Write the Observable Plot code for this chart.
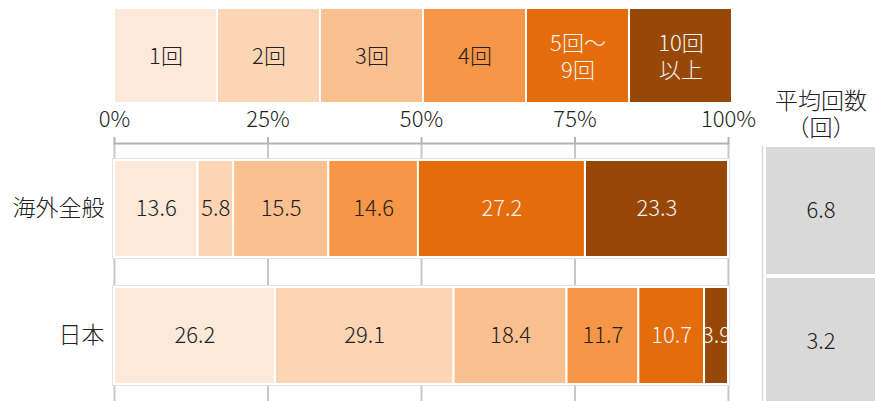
<!DOCTYPE html>
<html><head><meta charset="utf-8">
<script src="https://cdn.jsdelivr.net/npm/d3@7"></script>
<script src="https://cdn.jsdelivr.net/npm/@observablehq/plot@0.6"></script>
<style>
body{margin:0;background:#fff;}
#chart{position:relative;width:883px;height:401px;font-family:"Noto Sans CJK JP",sans-serif;font-weight:300;color:#222;overflow:hidden}
#chart svg{position:absolute;left:0;top:0}
#hdr{position:absolute;left:762px;width:118px;top:86px;text-align:center;font-size:23px;line-height:27px;z-index:2;text-spacing-trim:space-all;font-feature-settings:"chws" 0,"halt" 0,"fwid" 1}
</style></head><body><div id="chart"><div id="hdr">平均回数<br>（回）</div></div>
<script>
const categories = ["1回","2回","3回","4回","5回～\n9回","10回\n以上"];
const rows = ["海外全般","日本"];
const overseas = [13.6, 5.8, 15.5, 14.6, 27.2, 23.3];
const japan = [26.2, 29.1, 18.4, 11.7, 10.7, 3.9];
const averages = [6.8, 3.2];
const tickValues = [0, 25, 50, 75, 100];
const colors = ["#fde9d9","#fcd5b5","#fac090","#f79646","#e46c0a","#974806"];
const darkCats = categories.slice(0, 4);

const seriesByRow = [overseas, japan];
const data = rows.flatMap((r, ri) => seriesByRow[ri].map((v, i) => ({row: r, cat: categories[i], value: v})));
const avgData = rows.map((r, i) => ({row: r, avg: averages[i]}));

const baseStyle = {fontFamily: '"Noto Sans CJK JP", sans-serif', fontWeight: 300, fontSize: "22px", color: "#222", background: "transparent", overflow: "visible"};
const chart = document.getElementById("chart");

const legend = Plot.plot({
  width: 883, height: 110, marginLeft: 112, marginRight: 150, marginTop: 9, marginBottom: 8,
  x: {domain: categories, paddingInner: 0.02, paddingOuter: 0, axis: null},
  color: {domain: categories, range: colors},
  style: baseStyle,
  marks: [
    Plot.cell(categories, {x: d => d, fill: d => d}),
    Plot.text(categories, {x: d => d, text: d => darkCats.includes(d) ? d : "", fill: "#222", fontSize: 22, lineHeight: 1.2}),
    Plot.text(categories, {x: d => d, text: d => darkCats.includes(d) ? "" : d, fill: "#f4f4f4", fontSize: 22, lineHeight: 1.2})
  ]
});
chart.appendChild(legend);

const fmt = v => v.toFixed(1);
const main = Plot.plot({
  width: 883, height: 401, marginLeft: 114, marginRight: 155, marginTop: 143, marginBottom: 0,
  x: {domain: [0, 100], label: null},
  y: {domain: rows, paddingInner: 0.2326, paddingOuter: 0.125, label: null},
  color: {domain: categories, range: colors},
  style: baseStyle,
  marks: [
    Plot.ruleX(tickValues, {stroke: "#c8c8c8", strokeWidth: 2}),
    Plot.frame({anchor: "top", stroke: "#b4b4b4", strokeWidth: 2}),
    Plot.axisX({anchor: "top", label: null, ticks: tickValues, tickFormat: d => d + "%", tickSize: 7, tickPadding: 10, fontSize: 22, stroke: "#b4b4b4", strokeWidth: 2, fill: "#222"}),
    Plot.axisY({anchor: "left", label: null, tickSize: 0, tickPadding: 10, fontSize: 23, fill: "#222"}),
    Plot.barX(data, Plot.stackX({x: "value", y: "row", z: "cat", fill: "cat", stroke: "#e2e2e2", strokeWidth: 4})),
    Plot.barX(data, Plot.stackX({x: "value", y: "row", z: "cat", fill: "cat", stroke: "#ffffff", strokeWidth: 2})),
    Plot.text(data, Plot.stackX({x: "value", y: "row", z: "cat", text: d => darkCats.includes(d.cat) ? fmt(d.value) : "", fill: "#222", fontSize: 22})),
    Plot.text(data, Plot.stackX({x: "value", y: "row", z: "cat", text: d => darkCats.includes(d.cat) ? "" : fmt(d.value), fill: "#f4f4f4", fontSize: 22}))
  ]
});
chart.appendChild(main);

const avg = Plot.plot({
  width: 883, height: 401, marginLeft: 762, marginRight: 8, marginTop: 146, marginBottom: -4,
  x: {axis: null},
  y: {domain: rows, axis: null, paddingInner: 0.025, paddingOuter: 0},
  style: baseStyle,
  marks: [
    Plot.frame({anchor: "left", stroke: "#d9d9d9", strokeWidth: 1.5}),
    Plot.cell(avgData, {y: "row", fill: "#d9d9d9", insetLeft: 4, insetTop: 1}),
    Plot.text(avgData, {y: "row", text: d => fmt(d.avg), fill: "#222", fontSize: 22, dx: 2})
  ]
});
chart.appendChild(avg);
</script>
</body></html>
